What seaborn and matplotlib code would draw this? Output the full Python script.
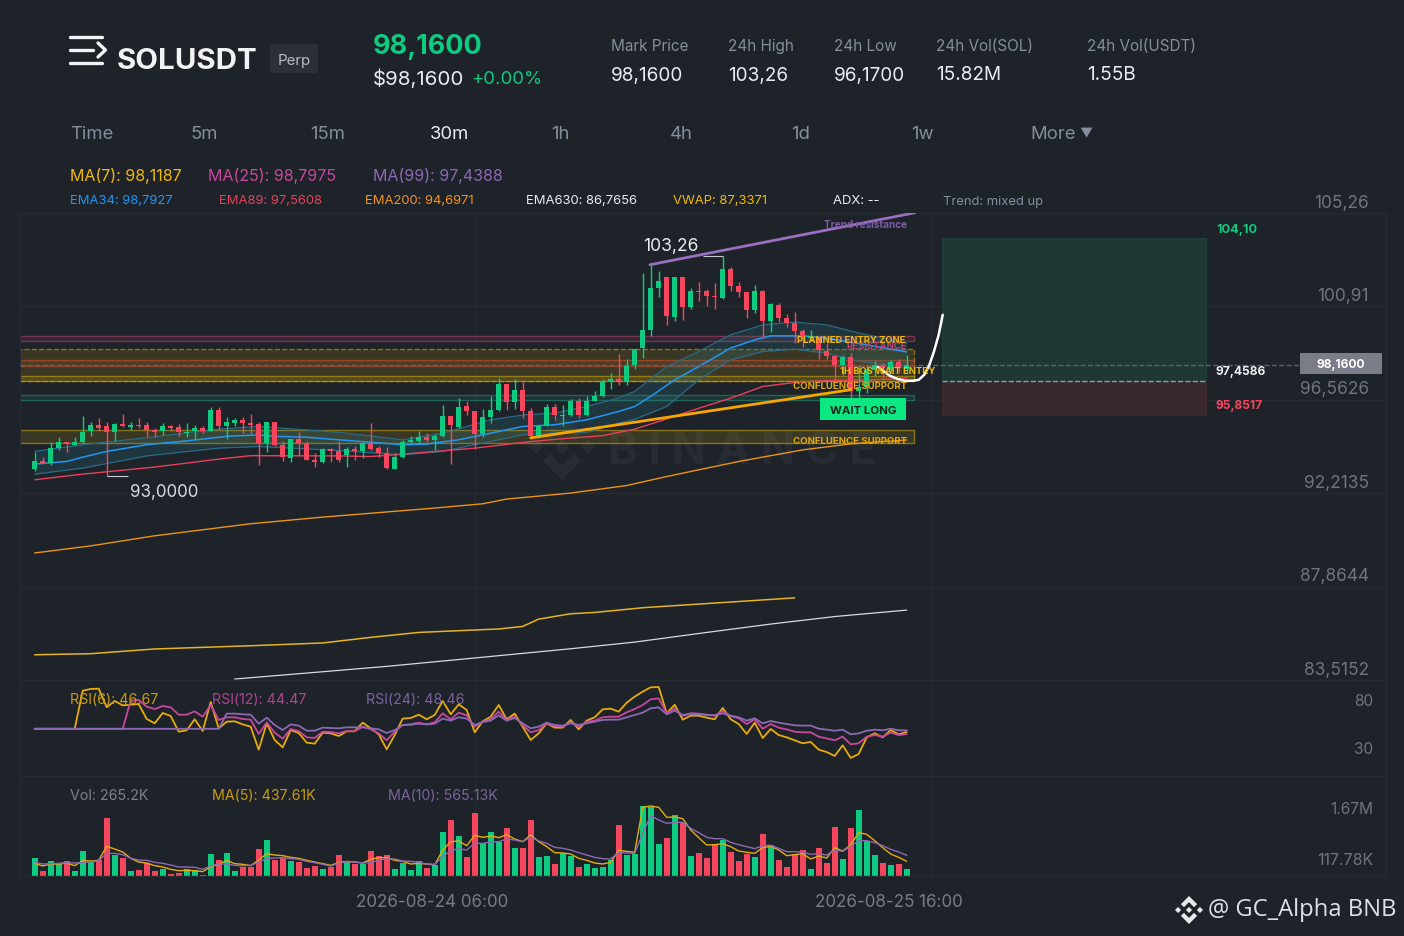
import numpy as np
import seaborn as sns
import matplotlib.pyplot as plt
from matplotlib.colors import to_rgba
from matplotlib.lines import Line2D
from matplotlib.patches import Rectangle, FancyBboxPatch, Polygon

BG = '#1e2229'
GRID = '#262a31'
UP = '#0ecb81'
DOWN = '#f6465d'
YEL = '#f0b90b'
PINK = '#c9479f'
PURP = '#8c68b5'
GREY = '#848e9c'
AXTXT = '#6f7580'

# --- candles (30m), price
opens = [93.33,93.69,93.62,94.31,94.61,94.48,94.58,95.09,95.38,95.35,
         95.07,95.45,95.30,95.41,95.41,95.17,95.10,95.35,95.30,95.00,
         95.10,95.26,95.09,96.10,95.35,95.47,95.60,95.48,95.45,94.55,
         95.54,94.47,93.86,94.76,94.55,93.77,93.66,94.27,94.20,94.00,
         94.27,94.20,94.55,94.31,94.08,93.33,93.89,94.58,94.64,94.84,
         94.70,94.86,95.83,95.29,96.28,96.05,94.98,95.74,96.07,97.28,
         96.44,97.03,96.02,94.89,95.35,96.25,95.82,95.86,96.50,95.86,
         96.52,96.72,97.46,97.52,97.46,98.18,98.97,99.79,101.75,102.26,
         100.44,102.26,100.88,101.64,101.61,101.40,101.30,102.66,101.87,101.56,
         100.75,101.65,100.21,100.99,100.39,100.13,99.77,99.43,99.43,98.84,
         98.58,98.19,98.55,96.95,97.14,97.93,98.19,97.96,98.30,97.98]
highs = [94.11,93.89,94.58,94.82,94.61,94.82,95.83,95.54,95.71,95.51,
         95.48,95.89,95.54,95.72,95.51,95.27,95.48,95.38,95.43,95.48,
         95.41,95.35,96.22,96.25,95.76,95.72,95.76,95.88,95.51,95.54,
         95.54,94.64,94.76,95.04,94.64,94.08,94.30,94.33,94.64,94.36,
         94.42,94.61,95.48,94.42,94.36,94.08,94.70,94.89,95.12,95.01,
         94.98,96.33,95.83,96.64,96.52,96.05,96.13,96.72,97.57,97.28,
         97.54,97.37,96.17,95.35,96.38,96.38,96.33,96.59,96.64,96.75,
         96.98,97.52,97.80,98.70,98.46,98.95,102.46,102.85,102.57,102.26,
         102.30,102.30,101.76,102.07,101.71,102.00,103.26,102.74,102.07,101.56,
         101.92,101.68,101.06,101.09,100.57,100.63,99.85,99.82,99.43,99.20,
         98.63,98.63,98.73,98.19,98.19,98.39,98.27,98.42,98.46,98.63]
lows = [93.27,93.58,93.54,94.23,94.11,94.44,94.55,94.86,95.10,93.00,
        94.65,95.29,95.17,95.26,94.82,94.82,94.93,95.09,94.86,94.82,
        94.73,95.01,95.09,95.17,94.75,95.32,95.01,94.98,93.51,94.14,
        94.42,93.71,93.65,93.95,93.74,93.43,93.62,93.65,93.68,93.43,
        93.77,93.85,94.24,93.92,93.33,93.33,93.85,94.55,94.55,94.61,
        94.24,94.82,93.58,95.24,95.86,94.27,94.81,95.48,96.02,96.10,
        96.13,95.71,94.73,94.78,95.32,95.63,95.35,95.82,95.71,95.82,
        96.49,96.69,97.06,97.26,97.26,97.99,98.53,99.54,101.37,100.05,
        100.21,100.26,100.81,101.14,100.94,100.81,101.25,101.65,101.37,100.39,
        100.60,99.46,99.70,100.19,99.94,99.23,99.04,99.28,98.47,98.47,
        97.46,97.73,96.59,96.64,96.87,97.65,97.57,97.80,97.80,97.80]
closes = [93.69,93.62,94.31,94.61,94.50,94.58,95.06,95.37,95.27,95.07,
          95.45,95.35,95.40,95.32,95.17,95.07,95.35,95.27,95.04,95.06,
          95.26,95.10,96.10,95.35,95.55,95.60,95.47,95.38,94.55,95.54,
          94.48,93.88,94.76,94.55,93.77,93.68,94.27,94.17,93.74,94.27,
          94.16,94.55,94.27,94.08,93.38,93.92,94.62,94.67,94.84,94.70,
          94.89,95.83,95.40,96.25,96.05,94.98,95.74,96.07,97.31,96.44,
          97.03,96.02,94.89,95.35,96.25,95.86,95.86,96.49,95.86,96.52,
          96.72,97.46,97.52,97.42,98.15,98.95,99.79,101.75,102.09,100.47,
          102.27,100.89,101.64,101.56,101.40,101.34,102.66,101.87,101.56,100.75,
          101.65,100.21,101.00,100.39,100.13,99.77,99.48,99.51,98.89,98.58,
          98.18,98.55,96.95,97.14,97.96,98.16,98.04,98.30,98.04,98.16]

# --- moving averages on the price pane, read at a few candles
ema34_x = [0,4,6,9,14,19,24,28,30,34,38,46,49,53,57,61,65,69,73,75,77,80,83,87,90,92,96,99,104,109]
ema34_y = [93.57,93.69,93.89,94.16,94.47,94.65,94.86,94.93,94.86,94.82,94.70,94.47,94.50,94.70,95.01,
           95.32,95.40,95.63,96.02,96.25,96.72,97.49,98.11,98.97,99.35,99.54,99.54,99.43,99.12,98.79]
band_x = [0,6,14,23,28,38,46,51,57,61,65,69,73,75,79,83,87,91,95,99,103,109]
band_hi = [94.16,94.47,94.80,95.20,95.32,95.05,94.70,95.01,95.63,95.85,95.94,96.25,96.65,96.95,98.11,
           98.81,99.59,100.05,100.18,100.05,99.67,99.20]
band_lo = [93.10,93.38,93.95,94.31,94.39,94.20,94.00,94.16,94.62,94.93,95.01,95.04,95.48,95.65,96.25,
           97.49,98.42,98.81,98.92,98.73,98.35,98.11]
ema89_x = [0,6,15,23,27,38,42,46,55,62,67,71,75,78,83,87,91,95,99,105,109]
ema89_y = [92.84,93.10,93.43,93.80,93.96,93.95,93.92,94.03,94.31,94.62,94.78,94.89,95.20,95.55,96.17,
           96.64,97.18,97.37,97.46,97.50,97.56]
ema200_x = [0,7,15,27,36,44,49,56,59,67,74,79,88,96,102,109]
ema200_y = [89.43,89.76,90.23,90.79,91.10,91.34,91.49,91.72,91.94,92.22,92.57,92.99,93.69,94.23,94.51,94.69]
vwap_x = [0,7,15,27,36,42,48,56,58,61,63,67,70,76,83,88,95]
vwap_y = [84.69,84.74,84.96,85.11,85.24,85.50,85.73,85.86,85.89,86.01,86.35,86.60,86.66,86.88,87.05,87.17,87.34]
ema630_x = [25,36,44,55,67,75,84,92,100,109]
ema630_y = [83.56,83.90,84.15,84.54,84.97,85.28,85.73,86.12,86.47,86.77]

# --- drawn objects
resist_x, resist_y = [76.9,110], [102.85,105.27]
support_x, support_y = [62,102], [94.79,97.03]
path_x = [105.4,106.2,106.9,107.8,108.8,109.8,110.5,111.2,111.8,112.4,113.0,113.5]
path_y = [98.10,97.87,97.68,97.54,97.45,97.45,97.49,97.73,98.15,98.80,99.59,100.52]
zone_lo = [99.31,97.45,98.15,97.45,96.54,94.56]
zone_hi = [99.54,98.94,98.42,97.68,96.80,95.17]
zone_col = ['#a83f66','#c9a20f','#c8502c','#c9a20f','#1f8a70','#c9a20f']
zone_ls = ['-','--','-','-','-','-']
target, entry, stop = 104.10, 97.4586, 95.8517
last_price = 98.16

price_ticks = [105.26,100.91,96.5626,92.2135,87.8644,83.5152]
price_labels = ['105,26','100,91','96,5626','92,2135','87,8644','83,5152']

# --- RSI
rsi6 = [50,50,50,50,50,50,89.7,91.5,91.8,72.4,79,74.4,75.1,75.8,60.2,55.7,66.5,63.3,47,48.4,
        59.9,47.7,77.9,50.5,57.4,57.8,54.6,52.2,28.3,55.7,38.3,30.7,48.7,45.6,35.6,34.5,46,45.3,42.5,47.4,
        47.4,56.4,50.5,44.2,28.6,43.5,60.6,61.2,64.7,59.9,64.4,79,65.1,75.5,69.6,46.3,57.8,62.6,74.8,59.9,
        65.8,52.2,38.3,45.3,55.7,51.2,51.2,59.2,49.4,58.5,62,70.3,71,67.8,77.2,83.5,88.7,93.2,93.5,66.1,
        75.1,59.5,63.7,63.7,61.6,59.9,71.7,59.9,55,44.6,56.4,40.4,49.8,43.5,41.1,38,34.9,36.3,28.3,25.8,
        21.7,32.8,19.6,23.8,41.1,45.3,41.1,48.7,44.2,46.67]
rsi12 = [50,50,50,50,50,50,50,50,50,50,50,50,79.3,80,73,70.6,73.7,72.4,64.7,64.7,
         68.2,62.6,74.8,59.2,62,62,60.2,59.5,44.6,56.7,46,39.7,49.8,47.7,41.1,40.4,47,46.7,45.3,47.7,
         47.4,52.2,49.4,45.3,38,47,54,54.6,56.4,54.6,56.7,66.1,59.9,66.8,64,52.2,57.4,59.9,67.8,59.2,
         62.6,54,46.3,48.7,55.7,52.9,52.2,56.7,52.2,57.4,58.5,62,62.6,62.6,67.2,70.6,74.8,80.7,81.7,66.1,
         71.3,63.3,66.1,65.8,64.7,63.7,68.5,63.3,60.9,55,59.9,50.1,55,51.2,49.4,47,46.3,46.3,41.8,40,
         38,41.8,33.8,34.9,41.8,43.5,41.8,46,43.5,44.47]
rsi24 = [50,50,50,50,50,50,50,50,50,50,50,50,50,50,50,50,50,50,50,50,
         50,50,50,50,65.8,65.8,65.1,64.7,55.3,61.6,54,48.7,54.6,53.3,48,48,51.2,50.8,50.5,51.5,
         51.5,51.5,50.5,49.4,45.6,48.7,54,54.3,55.3,54.6,55.3,60.6,58.5,62,60.6,54,57.1,58.5,64,58.5,
         61.2,55.7,50.5,52.2,56.4,54,53.3,55.7,54,55.7,57.4,59.2,59.5,59.5,62,64.4,66.8,71.3,72.4,65.1,
         68.9,64.4,65.8,65.4,64.4,64,66.1,63.7,62,58.5,60.9,55.7,58.1,56.4,55,53.6,53.3,53.3,50.1,49.1,
         48,49.1,44.2,45.3,48,49.1,48.4,50.1,48.4,48.46]

# --- volume, in thousands
volume = [550,150,460,390,450,150,760,430,480,1730,630,530,160,180,380,140,200,50,90,200,
          180,40,670,470,690,150,260,280,810,1070,480,550,450,430,250,310,200,260,630,420,
          350,370,750,610,630,200,380,180,440,250,320,1310,1680,1190,580,1880,980,1320,1030,1440,
          830,830,1680,570,610,360,680,610,280,350,240,280,480,1520,640,660,2100,2080,950,1140,
          1830,1600,610,680,540,960,1080,710,450,670,570,1270,940,490,280,660,770,220,840,380,
          1480,510,1440,1980,1050,630,400,330,350,200]
vol_ma5 = [380,300,360,360,390,310,460,450,470,890,810,720,530,420,390,310,270,200,160,170,
           160,130,280,350,470,370,350,310,480,670,630,610,560,530,470,420,370,320,400,440,
           420,390,500,550,550,470,440,360,380,360,330,780,1030,1050,910,1220,1160,1200,1150,1240,
           1110,1030,1230,1030,880,700,690,660,530,470,390,360,410,770,740,710,2060,2100,2060,1760,
           1770,1720,1380,1150,930,940,970,880,750,710,680,850,890,780,610,640,670,510,600,540,
           850,750,930,1300,1250,1060,850,660,560,440]
vol_ma10 = [410,360,370,380,400,390,400,430,460,680,680,640,530,480,470,410,380,330,270,270,
            260,200,300,360,360,320,310,320,420,530,540,550,520,500,440,400,350,300,380,430,
            420,390,400,480,510,510,450,440,410,360,350,580,760,820,780,980,980,1020,1030,1110,
            1080,1030,1170,1050,980,860,830,780,700,630,560,520,510,710,690,680,1280,1810,1680,1580,
            1610,1610,1430,1300,1160,1120,1120,1010,940,880,820,910,920,830,730,730,720,650,670,630,
            780,740,890,1060,1060,1000,910,800,720,620]

idx = np.arange(len(opens))

W, H = 1404, 936
sns.set_theme(style='dark', rc={'figure.facecolor': BG, 'axes.facecolor': 'none', 'savefig.facecolor': BG})
plt.rcParams['font.family'] = ['Inter', 'DejaVu Sans']

fig = plt.figure(figsize=(14.04, 9.36), dpi=100)


def pane(top, bottom):
    ax = fig.add_axes([20/W, 1-bottom/H, 1366/W, (bottom-top)/H])
    for s in ax.spines.values():
        s.set_color(GRID)
        s.set_linewidth(1)
    ax.set_xlim((20-34.7)/8, (1386-34.7)/8)
    ax.set_xticks([55, 112])
    ax.tick_params(length=0, labelbottom=False, labelleft=False)
    ax.grid(True, color=GRID, linewidth=1)
    ax.set_axisbelow(True)
    return ax


def put(x, y, s, size, color, weight='normal', ha='left', va='center', z=10, **kw):
    return fig.text(x/W, 1-(y+2.5)/H, s, fontsize=size*0.72, color=color, fontweight=weight, ha=ha, va=va, zorder=z, **kw)


def line(ax, x, y, color, lw, z=3, **kw):
    sns.lineplot(x=x, y=y, color=color, linewidth=lw, estimator=None, sort=False, errorbar=None, ax=ax, zorder=z, **kw)


def logo(cx, cy, r, color, z):
    # binance mark: centre and side diamonds, two chevrons
    shapes = [[(0, .22), (.22, 0), (0, -.22), (-.22, 0)],
              [(-.78, .22), (-.56, 0), (-.78, -.22), (-1, 0)],
              [(.78, .22), (1, 0), (.78, -.22), (.56, 0)],
              [(0, 1), (.58, .42), (.36, .2), (0, .56), (-.36, .2), (-.58, .42)],
              [(0, -1), (.58, -.42), (.36, -.2), (0, -.56), (-.36, -.2), (-.58, -.42)]]
    for pts in shapes:
        fig.add_artist(Polygon([((cx+a*r)/W, 1-(cy-b*r)/H) for a, b in pts], closed=True, transform=fig.transFigure,
                               facecolor=color, edgecolor='none', zorder=z))


ax = pane(213, 680)
ax_rsi = pane(680, 776)
ax_vol = pane(776, 876)

# price pane: zones, averages, candles
zone_end = (914-20)/1366
for lo, hi, c, ls in zip(zone_lo, zone_hi, zone_col, zone_ls):
    ax.axhspan(lo, hi, xmin=0, xmax=zone_end, facecolor=to_rgba(c, 0.17), edgecolor=to_rgba(c, 0.6),
               linewidth=1, linestyle=ls, zorder=1)

ax.fill_between(band_x, band_lo, band_hi, color=to_rgba('#2a8a96', 0.2), linewidth=0, zorder=2)
line(ax, band_x, band_hi, '#2b6a86', 0.9, z=2)
line(ax, band_x, band_lo, '#2b6a86', 0.9, z=2)
line(ax, ema200_x, ema200_y, '#ee9412', 1.0)
line(ax, vwap_x, vwap_y, '#e6b422', 1.1)
line(ax, ema630_x, ema630_y, '#d8dade', 0.9)
line(ax, ema89_x, ema89_y, '#e8405c', 1.0)
line(ax, ema34_x, ema34_y, '#2196f3', 1.1)

o, c = np.array(opens), np.array(closes)
cols = [UP if b >= a else DOWN for a, b in zip(o, c)]
ax.vlines(idx, lows, highs, colors=cols, linewidth=1.0, zorder=4)
ax.bar(idx, np.maximum(np.abs(c-o), 0.04), bottom=np.minimum(o, c), width=0.66, color=cols, linewidth=0, zorder=5)

line(ax, support_x, support_y, '#f7a600', 2.0, z=6)
line(ax, resist_x, resist_y, '#9a6fc0', 2.0, z=6)
line(ax, path_x, path_y, '#ffffff', 1.8, z=7)

# risk / reward box
ax.bar((113.4+146.4)/2, target-entry, bottom=entry, width=33, color='#1f3836', edgecolor='#1f4a40', linewidth=0.5, zorder=1)
ax.bar((113.4+146.4)/2, entry-stop, bottom=stop, width=33, color='#3a2830', edgecolor='#452a32', linewidth=0.5, zorder=1)
ax.hlines(entry, 113.4, 146.4, colors='#7fa8a0', linestyles='--', linewidth=1, zorder=2)
ax.axhline(last_price, xmin=0, xmax=(1300-20)/1366, color='#5c6068', linestyle='--', linewidth=1, zorder=3)

ax.set_ylim(83.5152, 105.26)
ax.set_yticks(price_ticks[1:-1])
for v, s in zip(price_ticks, price_labels):
    ax.annotate(s, xy=(1, v), xycoords=('axes fraction', 'data'), xytext=(-12.5, 1), textcoords='offset points',
                ha='right', va='bottom', fontsize=17.3*0.72, color=AXTXT, annotation_clip=False)

# extreme labels
ax.hlines(103.26, 86, 83.5, colors='#c8ccd2', linewidth=0.8, zorder=6)
ax.hlines(93.0, 9, 11.6, colors='#c8ccd2', linewidth=0.8, zorder=6)
put(643, 244, '103,26', 17.5, '#eaecef')
put(130, 490, '93,0000', 17, '#d8dade')

# RSI pane
line(ax_rsi, idx, rsi6, '#e6ac0c', 1.3)
line(ax_rsi, idx, rsi12, PINK, 1.3)
line(ax_rsi, idx, rsi24, PURP, 1.3)
ax_rsi.set_ylim(0.83, 100.83)
ax_rsi.set_yticks([])
put(1373, 699, '80', 15.5, AXTXT, ha='right')
put(1373, 747, '30', 15.5, AXTXT, ha='right')
put(70, 698, 'RSI(6): 46.67', 14.2, '#c89c12')
put(212, 698, 'RSI(12): 44.47', 14.2, '#b0458f')
put(366, 698, 'RSI(24): 48.46', 14.2, '#7d62a0')

# volume pane
side = ['up' if b >= a else 'down' for a, b in zip(opens, closes)]
sns.barplot(x=idx, y=volume, hue=side, palette={'up': UP, 'down': DOWN}, native_scale=True, dodge=False,
            width=0.72, saturation=1, legend=False, linewidth=0, ax=ax_vol, zorder=2)
line(ax_vol, idx, vol_ma5, '#e6ac0c', 1.0, z=4)
line(ax_vol, idx, vol_ma10, PURP, 1.0, z=4)
ax_vol.set_ylim(0, 3000)
ax_vol.set_yticks([])
ax_vol.set_xlim((20-34.7)/8, (1386-34.7)/8)
ax_vol.set_xticks([55, 112])
ax_vol.set_xlabel('')
ax_vol.tick_params(length=0, labelbottom=False, labelleft=False)
put(1373, 807, '1.67M', 15.5, AXTXT, ha='right')
put(1373, 858, '117.78K', 16, AXTXT, ha='right')
put(70, 793, 'Vol: 265.2K', 14.2, '#7d828b')
put(212, 793, 'MA(5): 437.61K', 14.2, '#c89c12')
put(388, 793, 'MA(10): 565.13K', 14.2, '#7d62a0')
put(432, 900, '2026-08-24 06:00', 17, '#767c86', ha='center')
put(889, 900, '2026-08-25 16:00', 17, '#767c86', ha='center')

# zone labels
put(907, 222, 'Trend resistance', 10, '#7c5ea6', 'bold', ha='right')
put(907, 344, 'RESISTANCE', 9.5, '#b8456f', 'bold', ha='right')
put(905, 338, 'PLANNED ENTRY ZONE', 9.4, '#f0b90b', 'bold', ha='right')
put(935, 369, '1H BOS WAIT ENTRY', 9.4, '#f0b90b', 'bold', ha='right')
put(907, 384, 'CONFLUENCE SUPPORT', 9.6, '#e0a80c', 'bold', ha='right')
put(907, 439, 'CONFLUENCE SUPPORT', 9.6, '#e0a80c', 'bold', ha='right')
fig.add_artist(Rectangle((820/W, 1-420/H), 86/W, 22/H, transform=fig.transFigure, facecolor='#0be881', edgecolor='none', zorder=9))
put(863, 408, 'WAIT LONG', 11.4, '#12251f', 'bold', ha='center')

# right side tags
put(1216, 227, '104,10', 12.6, UP, 'bold')
put(1216, 369.5, '97,4586', 12, '#eaecef', 'bold')
put(1216, 404, '95,8517', 12, DOWN, 'bold')
fig.add_artist(Rectangle((1300/W, 1-374/H), 82/W, 21/H, transform=fig.transFigure, facecolor='#7a7d87', edgecolor='none', zorder=9))
put(1341, 362.5, '98,1600', 12, '#ffffff', 'bold', ha='center')

# header
for yy, x1 in zip([37, 50, 63], [102, 93, 102]):
    fig.add_artist(Line2D([70/W, x1/W], [1-yy/H, 1-yy/H], color='#f2f3f5', linewidth=2.4, transform=fig.transFigure, solid_capstyle='round'))
fig.add_artist(Line2D([98/W, 105.5/W, 98/W], [1-43/H, 1-50/H, 1-57/H], color='#f2f3f5', linewidth=2.4, transform=fig.transFigure))
put(117, 59, 'SOLUSDT', 29.5, '#f2f3f5', 'bold')
fig.add_artist(FancyBboxPatch((270/W, 1-73/H), 48/W, 29/H, boxstyle='round,pad=0,rounding_size=0.002',
                              transform=fig.transFigure, facecolor='#2b3038', edgecolor='none'))
put(294, 58, 'Perp', 15, '#b7bdc6', ha='center')
put(373, 45, '98,1600', 27, UP, 'bold')
put(373, 77, '$98,1600', 20.5, '#eaecef')
put(471, 77, '+0.00%', 18.5, UP)
for x, a, b in [(611, 'Mark Price', '98,1600'), (728, '24h High', '103,26'), (834, '24h Low', '96,1700'),
                (936, '24h Vol(SOL)', '15.82M'), (1087, '24h Vol(USDT)', '1.55B')]:
    put(x, 44, a, 15.3, GREY)
    put(x, 73, b, 19, '#eaecef')

for x, s in [(70, 'Time'), (190, '5m'), (310, '15m'), (551, '1h'), (670, '4h'), (791, '1d'), (911, '1w'), (1030, 'More')]:
    put(x, 132, s, 18.5, GREY)
put(1079, 132, '▼', 13, GREY)
put(430, 132, '30m', 18.5, '#eaecef')

put(70, 173, 'MA(7): 98,1187', 16, YEL)
put(208, 173, 'MA(25): 98,7975', 16, PINK)
put(373, 173, 'MA(99): 97,4388', 16, PURP)
for x, s, col in [(70, 'EMA34: 98,7927', '#2196f3'), (219, 'EMA89: 97,5608', '#e8405c'), (365, 'EMA200: 94,6971', '#f7931a'),
                  (526, 'EMA630: 86,7656', '#eaecef'), (673, 'VWAP: 87,3371', YEL), (833, 'ADX: --', '#eaecef'),
                  (943, 'Trend: mixed up', GREY)]:
    put(x, 199, s, 13, col)

# watermark and footer
put(608, 449, 'B I N A N C E', 45, '#272b33', 'bold', z=-1)
logo(562, 447, 33, '#272b33', -1)
logo(1189, 910, 14, '#e6e8ea', 10)
put(1208, 908, '@ GC_Alpha BNB', 23.8, '#dfe1e4', family='Open Sans')

fig.savefig('out.png', dpi=100)
